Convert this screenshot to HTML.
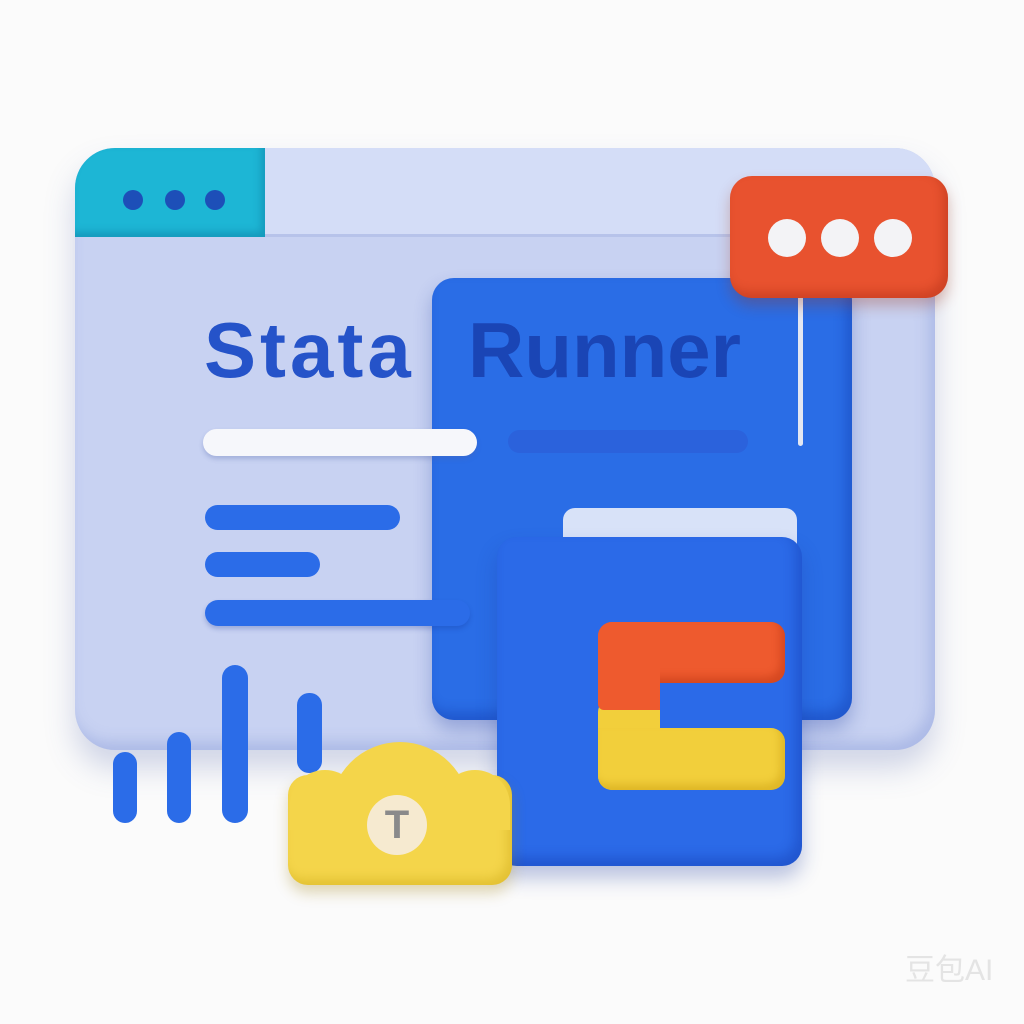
<!DOCTYPE html>
<html><head><meta charset="utf-8"><style>
html,body{margin:0;padding:0}
body{width:1024px;height:1024px;background:#fbfbfb;position:relative;overflow:hidden;font-family:"Liberation Sans",sans-serif}
div{position:absolute;box-sizing:border-box}
</style></head><body>
<!-- main window -->
<div style="left:75px;top:148px;width:860px;height:602px;background:#c8d2f2;border-radius:40px;box-shadow:0 18px 30px rgba(80,100,170,.25), inset -6px -8px 14px rgba(120,140,210,.35)"></div>
<div style="left:75px;top:148px;width:860px;height:89px;background:#d4ddf7;border-radius:40px 40px 0 0;border-bottom:3px solid #b7c3ea"></div>
<div style="left:75px;top:148px;width:190px;height:89px;background:#1db6d5;border-radius:40px 0 0 0;box-shadow:inset -4px -5px 8px rgba(0,90,130,.3)"></div>
<div style="left:123px;top:190px;width:20px;height:20px;border-radius:50%;background:#1d4fb8"></div>
<div style="left:165px;top:190px;width:20px;height:20px;border-radius:50%;background:#1d4fb8"></div>
<div style="left:205px;top:190px;width:20px;height:20px;border-radius:50%;background:#1d4fb8"></div>
<!-- blue panel -->
<div style="left:432px;top:278px;width:420px;height:442px;background:#2a6de6;border-radius:22px;box-shadow:0 10px 18px rgba(30,60,160,.3), inset -6px -8px 12px rgba(10,40,150,.3)"></div>
<!-- text -->
<div style="left:204px;top:300px;font-size:78px;font-weight:bold;color:#2553c9;letter-spacing:4px;line-height:100px">Stata</div>
<div style="left:468px;top:300px;font-size:78px;font-weight:bold;color:#1a45b5;letter-spacing:0px;line-height:100px">Runner</div>
<!-- stem + bubble -->
<div style="left:798px;top:296px;width:5px;height:150px;background:#e3e7f2;border-radius:3px"></div>
<div style="left:730px;top:176px;width:218px;height:122px;background:#e8522f;border-radius:22px;box-shadow:0 8px 14px rgba(160,50,20,.3), inset -5px -6px 10px rgba(150,30,10,.3)"></div>
<div style="left:768px;top:219px;width:38px;height:38px;border-radius:50%;background:#f3f3f6"></div>
<div style="left:821px;top:219px;width:38px;height:38px;border-radius:50%;background:#f3f3f6"></div>
<div style="left:874px;top:219px;width:38px;height:38px;border-radius:50%;background:#f3f3f6"></div>
<!-- bars -->
<div style="left:203px;top:429px;width:274px;height:27px;background:#f6f7fb;border-radius:14px;box-shadow:0 3px 5px rgba(80,100,170,.3)"></div>
<div style="left:508px;top:430px;width:240px;height:23px;background:#2b62dc;border-radius:12px"></div>
<div style="left:205px;top:505px;width:195px;height:25px;background:#2b6ce8;border-radius:13px"></div>
<div style="left:205px;top:552px;width:115px;height:25px;background:#2b6ce8;border-radius:13px"></div>
<div style="left:205px;top:600px;width:265px;height:26px;background:#2b6ce8;border-radius:13px;box-shadow:0 3px 5px rgba(20,50,150,.25)"></div>
<!-- vertical bars -->
<div style="left:113px;top:752px;width:24px;height:71px;background:#2b6ce8;border-radius:12px"></div>
<div style="left:167px;top:732px;width:24px;height:91px;background:#2b6ce8;border-radius:12px"></div>
<div style="left:222px;top:665px;width:26px;height:158px;background:#2b6ce8;border-radius:13px"></div>
<div style="left:297px;top:693px;width:25px;height:80px;background:#2b6ce8;border-radius:12px"></div>
<!-- folder -->
<div style="left:563px;top:508px;width:234px;height:50px;background:#d8e2f8;border-radius:12px"></div>
<div style="left:497px;top:537px;width:305px;height:329px;background:#2b6ae8;border-radius:20px;box-shadow:0 12px 20px rgba(30,60,160,.3), inset -6px -8px 12px rgba(10,40,150,.3)"></div>
<!-- C shape -->
<div style="left:598px;top:700px;width:62px;height:90px;background:#f2cf3b;border-radius:12px 0 0 14px"></div>
<div style="left:598px;top:728px;width:187px;height:62px;background:#f2cf3b;border-radius:0 14px 14px 14px;box-shadow:inset -5px -6px 8px rgba(190,140,0,.35)"></div>
<div style="left:598px;top:622px;width:187px;height:61px;background:#ee5a2e;border-radius:14px;box-shadow:inset -5px -6px 8px rgba(170,40,10,.35)"></div>
<div style="left:598px;top:622px;width:62px;height:88px;background:#ee5a2e;border-radius:14px 0 0 6px"></div>
<!-- cloud -->
<div style="left:288px;top:775px;width:224px;height:110px;background:#f4d54a;border-radius:20px;box-shadow:0 8px 14px rgba(160,130,20,.3), inset -5px -6px 10px rgba(190,150,0,.3)"></div>
<div style="left:330px;top:742px;width:140px;height:90px;background:#f4d54a;border-radius:70px 70px 0 0"></div>
<div style="left:290px;top:770px;width:70px;height:60px;background:#f4d54a;border-radius:35px 35px 0 0"></div>
<div style="left:440px;top:770px;width:70px;height:60px;background:#f4d54a;border-radius:35px 35px 0 0"></div>
<div style="left:367px;top:795px;width:60px;height:60px;border-radius:50%;background:#f6ead0;color:#8a8a8a;font-weight:bold;font-size:40px;text-align:center;line-height:60px">T</div>
<div style="left:905px;top:945px;font-size:30px;color:#e4e4e4;font-family:'Liberation Sans','Noto Sans CJK SC',sans-serif">豆包AI</div>
</body></html>
